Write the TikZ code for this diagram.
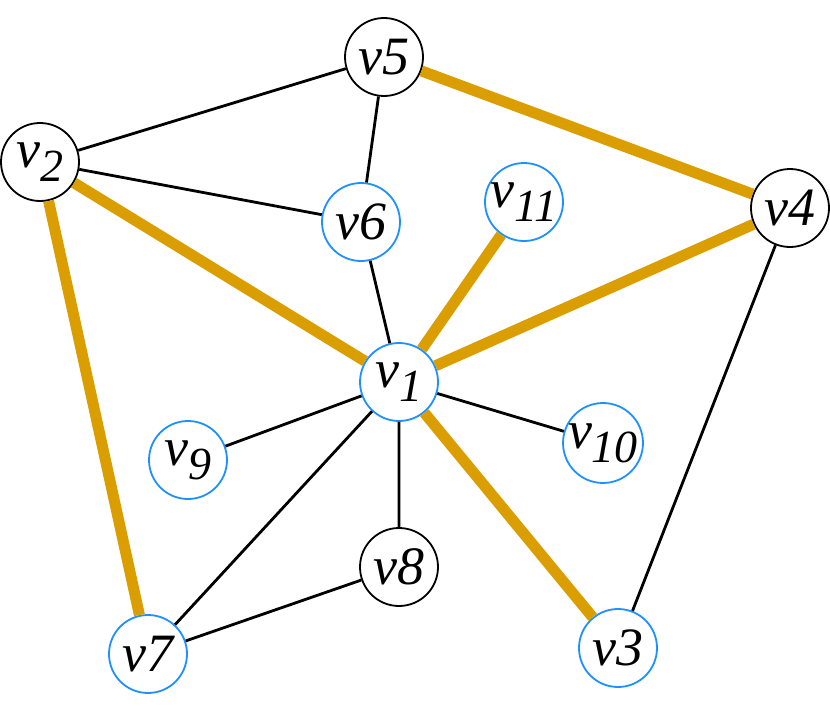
\documentclass[tikz,border=0pt]{standalone}
\usepackage{fontspec}
\setmainfont{Liberation Serif}
\newcommand\vsub[1]{\raisebox{-14pt}{\fontsize{46}{46}\selectfont #1}}
\begin{document}
\begin{tikzpicture}[x=1pt,y=-1pt,
  vtx/.style={circle,draw=black,fill=white,line width=1.8pt,minimum size=78pt,inner sep=0pt,
    font=\fontsize{54}{54}\selectfont\itshape},
  bvtx/.style={vtx,draw=blueC},
  plain/.style={draw=black,line width=2.8pt},
  gold/.style={draw=goldC,line width=11pt}]
\definecolor{blueC}{RGB}{30,144,255}
\definecolor{goldC}{RGB}{218,158,0}
\useasboundingbox (0,0) rectangle (830,709);
\node[vtx]  (v5)  at (384,57)  {v5};
\node[vtx]  (v2)  at (40,162)  {v\vsub{2}};
\node[bvtx] (v6)  at (361,222) {v6};
\node[bvtx] (v11) at (524,202) {v\vsub{11}};
\node[vtx]  (v4)  at (790,208) {v4};
\node[bvtx] (v1)  at (399,382) {v\vsub{1}};
\node[bvtx] (v9)  at (188,460) {v\vsub{9}};
\node[bvtx] (v10) at (603,443) {v\vsub{10}};
\node[vtx]  (v8)  at (399,567) {v8};
\node[bvtx] (v7)  at (148,654) {v7};
\node[bvtx] (v3)  at (618,648) {v3};
\path[plain] (v5)--(v2) (v5)--(v6) (v2)--(v6) (v6)--(v1) (v1)--(v9) (v1)--(v10)
  (v1)--(v7) (v1)--(v8) (v8)--(v7) (v4)--(v3);
\path[gold] (v5)--(v4) (v2)--(v1) (v2)--(v7) (v1)--(v11) (v1)--(v4) (v1)--(v3);
\end{tikzpicture}
\end{document}
